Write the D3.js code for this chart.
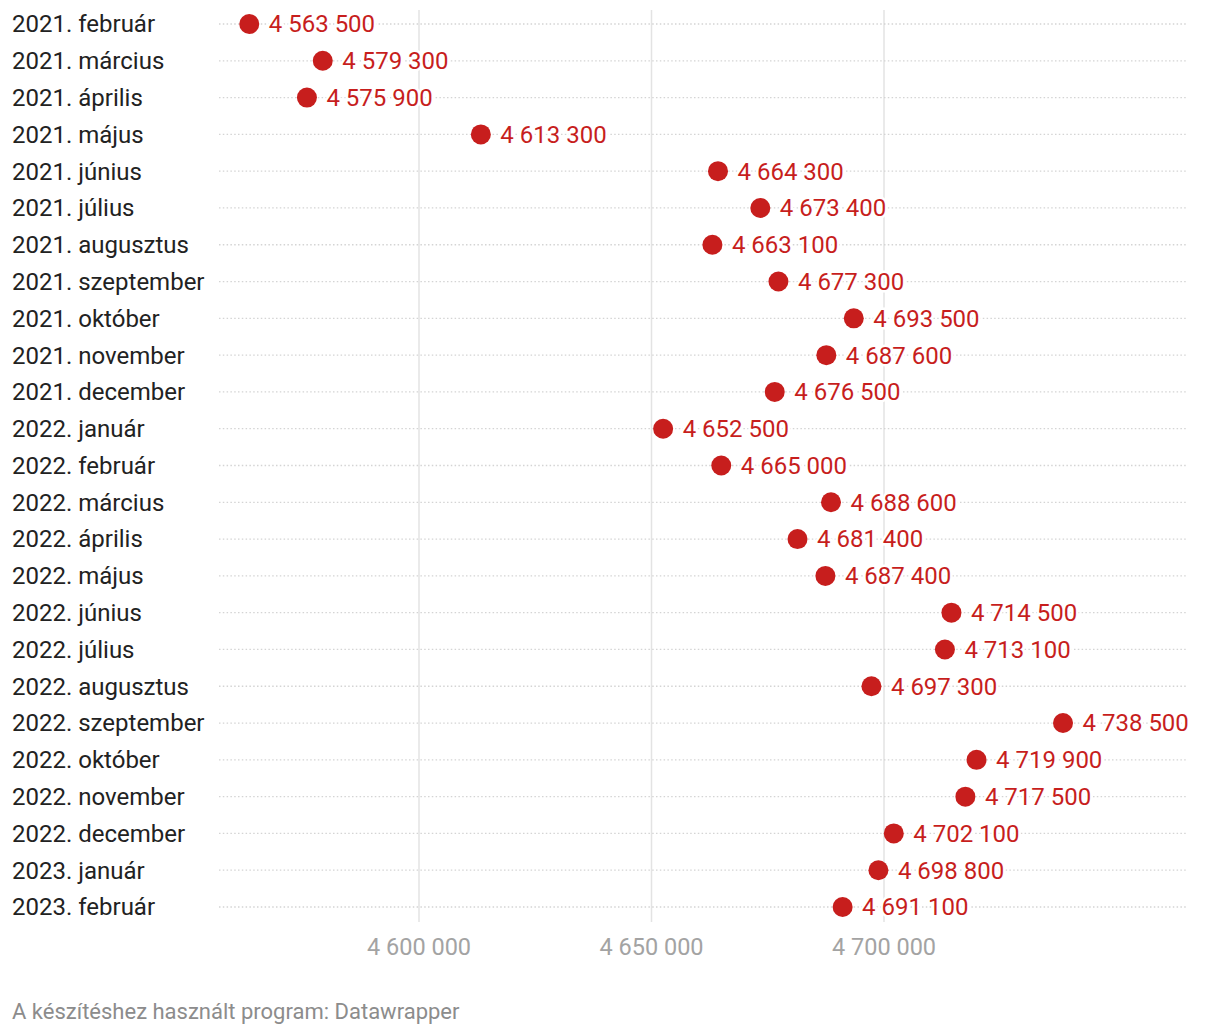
<!DOCTYPE html>
<html><head><meta charset="utf-8">
<script src="https://cdn.jsdelivr.net/npm/d3@7"></script>
<style>
body{margin:0;background:#fff;}
svg{font-family:Roboto,"Noto Sans",sans-serif;}
</style></head>
<body>
<svg id="c" width="1220" height="1034"></svg>
<script>
const categories = ["2021. február","2021. március","2021. április","2021. május","2021. június","2021. július","2021. augusztus","2021. szeptember","2021. október","2021. november","2021. december","2022. január","2022. február","2022. március","2022. április","2022. május","2022. június","2022. július","2022. augusztus","2022. szeptember","2022. október","2022. november","2022. december","2023. január","2023. február"];
const values = [4563500,4579300,4575900,4613300,4664300,4673400,4663100,4677300,4693500,4687600,4676500,4652500,4665000,4688600,4681400,4687400,4714500,4713100,4697300,4738500,4719900,4717500,4702100,4698800,4691100];
const tickValues = [4600000,4650000,4700000];
const footer = "A készítéshez használt program: Datawrapper";

const loc = d3.formatLocale({decimal:",",thousands:"\u00a0",grouping:[3],currency:["",""]});
const fmt = loc.format(",d");

const svg = d3.select("#c");
const x = d3.scaleLinear().domain([4600000,4700000]).range([419,884]);
const y = d3.scalePoint().domain(categories).range([24,907]);
const xLeft = 219, xRight = 1186;
const red = "#c71e1d";

// gridlines
svg.append("g").selectAll("line").data(tickValues).join("line")
  .attr("x1",d=>x(d)).attr("x2",d=>x(d)).attr("y1",10).attr("y2",922)
  .attr("stroke","#e3e3e3").attr("stroke-width",1.5);

// row dotted lines
svg.append("g").selectAll("line").data(categories).join("line")
  .attr("x1",xLeft).attr("x2",xRight).attr("y1",d=>y(d)).attr("y2",d=>y(d))
  .attr("stroke","#d4d4d4").attr("stroke-width",1.3).attr("stroke-dasharray","1.5,2.3");

// row labels
svg.append("g").selectAll("text").data(categories).join("text")
  .attr("x",12).attr("y",d=>y(d)).attr("dy","0.35em")
  .attr("font-size",24).attr("fill","#222").text(d=>d);

const rows = categories.map((c,i)=>({c,v:values[i]}));
// dots
svg.append("g").selectAll("circle").data(rows).join("circle")
  .attr("cx",d=>x(d.v)).attr("cy",d=>y(d.c)).attr("r",10).attr("fill",red);

// value labels
svg.append("g").selectAll("text").data(rows).join("text")
  .attr("x",d=>x(d.v)+19.5).attr("y",d=>y(d.c)).attr("dy","0.35em")
  .attr("font-size",24).attr("fill",red)
  .attr("stroke","#fff").attr("stroke-width",5).attr("paint-order","stroke")
  .text(d=>fmt(d.v));

// x axis tick labels
svg.append("g").selectAll("text").data(tickValues).join("text")
  .attr("x",d=>x(d)).attr("y",947).attr("dy","0.35em").attr("text-anchor","middle")
  .attr("font-size",23.5).attr("fill","#a3a3a3").text(d=>fmt(d));

svg.append("text").attr("x",12).attr("y",1011).attr("dy","0.35em")
  .attr("font-size",22).attr("fill","#8c8c8c").text(footer);
</script>
</body></html>
